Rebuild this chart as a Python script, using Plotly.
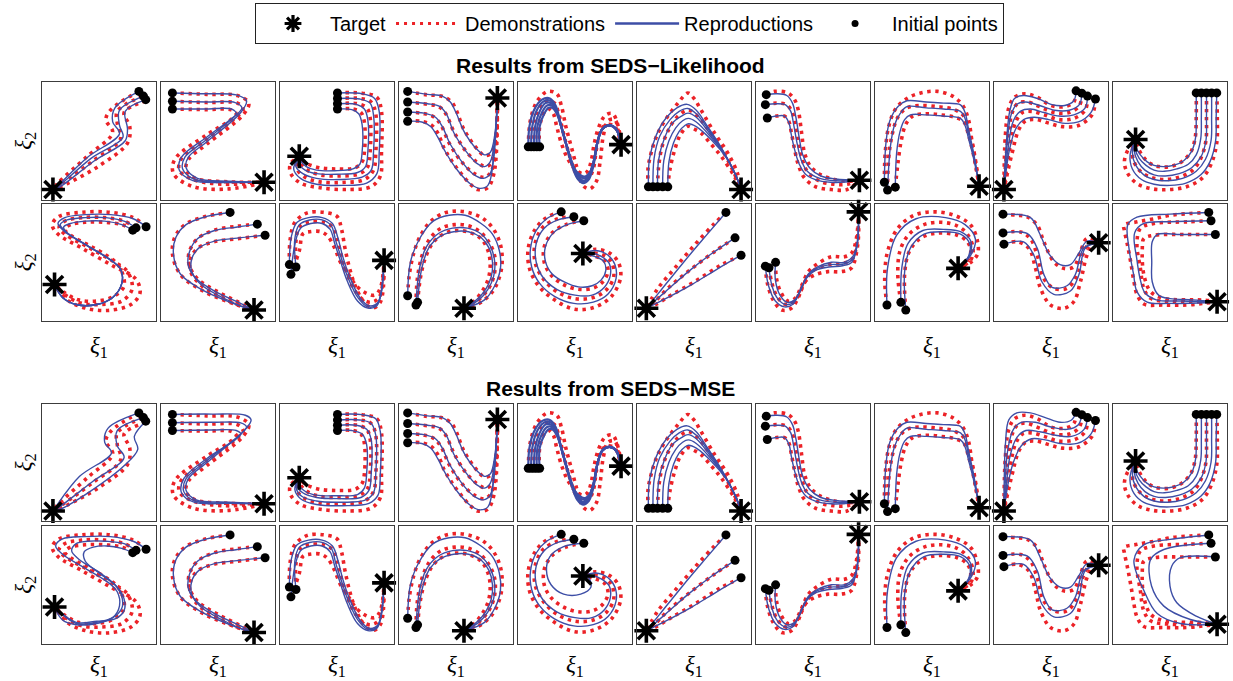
import plotly.graph_objects as go

W, H = 1233, 681

# ---------------- data (panel coordinates 0-100, y up) ----------------
# Row-1/3 shapes: S01..S10 ; Row-2/4 shapes: S11..S20
T01 = (9.6, 8.5)
D01 = [
    [(85, 92), (61, 77), (56, 68), (62, 57), (40, 37), (14, 14), (9.6, 8.5)],
    [(88, 88), (66, 75), (66, 65), (69, 52), (45, 33), (18, 14), (9.6, 8.5)],
    [(91, 84), (72, 74), (77, 62), (75, 48), (49, 28), (23, 14), (9.6, 8.5)],
]
RL01 = [
    [(85, 92), (64, 78), (62, 66), (68, 56), (40, 36), (14, 12), (9.6, 8.5)],
    [(89, 88), (68, 76), (68, 63), (71, 53), (43, 35), (14, 11), (9.6, 8.5)],
    [(91, 85), (73, 75), (75, 60), (73, 50), (46, 33), (16, 11), (9.6, 8.5)],
]
RM01 = [
    [(85, 92), (58, 79), (55, 67), (61, 58), (33, 38), (12, 12), (9.6, 8.5)],
    [(89, 88), (66, 77), (66, 64), (72, 54), (45, 34), (14, 11), (9.6, 8.5)],
    [(91, 85), (81, 72), (84, 61), (72, 47), (42, 25), (16, 10), (9.6, 8.5)],
]

T02 = (90.4, 14.7)
D02 = [
    [(10, 90.7), (40, 89.5), (67, 88.5), (77, 82), (72, 72), (40, 47), (24, 34), (22, 25), (30, 18), (60, 15), (90.4, 14.7)],
    [(10, 83.6), (40, 82.5), (67, 82), (72, 77), (66, 70), (40, 51), (18, 35), (16, 25), (28, 17), (55, 13), (90.4, 14.7)],
    [(10, 77), (40, 76.5), (61, 76.5), (66, 73), (60, 67), (40, 55), (12, 34), (11, 22), (28, 11), (60, 9), (90.4, 14.7)],
]
RL02 = [
    [(10, 90.7), (40, 90), (66, 89), (75, 84), (70, 74), (40, 49), (24, 36), (22, 27), (32, 18), (60, 15.5), (90.4, 14.7)],
    [(10, 83.6), (40, 83), (65, 82.5), (71, 78), (65, 71), (40, 51), (21, 36), (19, 26), (30, 17), (60, 15), (90.4, 14.7)],
    [(10, 77), (40, 77), (62, 77), (66, 73), (60, 67.5), (40, 53), (18, 36), (16, 25), (28, 16), (60, 14.5), (90.4, 14.7)],
]
RM02 = [
    [(10, 90.7), (45, 91), (74, 90), (79, 86), (74, 78), (42, 51), (24, 36), (22, 26), (31, 18), (60, 16), (90.4, 14.7)],
    [(10, 83.6), (45, 84), (70, 83.5), (75, 80), (70, 74), (41, 52), (22, 36), (20, 25), (30, 17), (60, 15.5), (90.4, 14.7)],
    [(10, 77), (45, 77.5), (66, 77), (70, 74), (65, 69), (40, 53), (20, 36), (18, 24), (29, 16), (60, 15), (90.4, 14.7)],
]

T03 = (16.9, 36.8)
D03 = [
    [(50.4, 90.7), (72, 90.5), (85, 87), (89, 75), (89, 40), (88, 20), (80, 11), (60, 8.5), (35, 10), (18, 14), (9.5, 22), (9, 30), (16.9, 36.8)],
    [(50.4, 86), (70, 86), (80, 83), (84, 73), (84, 40), (82, 25), (74, 17), (55, 14.5), (35, 15), (22, 19), (15, 26), (16.9, 36.8)],
    [(50.4, 81.5), (68, 81.5), (76, 78), (79, 70), (79, 40), (77, 28), (70, 22), (52, 20), (35, 21), (24, 25), (18, 31), (16.9, 36.8)],
    [(50.4, 77), (64, 77), (71, 74), (74, 66), (74, 40), (72, 32), (66, 27), (50, 26), (35, 27), (25, 30), (19, 34), (16.9, 36.8)],
]
RL03 = [
    [(50.4, 90.7), (72, 90), (83, 86), (87, 75), (87, 40), (85, 22), (76, 14), (55, 12), (32, 13), (18, 18), (12, 26), (16.9, 36.8)],
    [(50.4, 86), (70, 85.5), (79, 82), (82, 72), (82, 40), (80, 25), (72, 19), (52, 17), (32, 18), (20, 22), (14, 28), (16.9, 36.8)],
    [(50.4, 81.5), (67, 81), (74, 77), (77, 68), (77, 40), (75, 28), (68, 23), (50, 21.5), (32, 22), (22, 25), (16, 31), (16.9, 36.8)],
    [(50.4, 77), (63, 76.5), (69, 73), (72, 64), (72, 40), (70, 30), (64, 26), (48, 24.5), (32, 25), (23, 28), (18, 33), (16.9, 36.8)],
]
RM03 = [
    [(50.4, 90.7), (72, 90.5), (84, 87), (88, 76), (88, 40), (86, 22), (78, 15), (55, 13), (32, 14), (18, 19), (13, 27), (16.9, 36.8)],
    [(50.4, 86), (70, 86), (80, 83), (84, 73), (84, 40), (82, 24), (74, 17.5), (53, 16), (32, 17), (19, 21), (14, 29), (16.9, 36.8)],
    [(50.4, 81.5), (67, 81.5), (76, 78), (80, 69), (80, 40), (78, 26), (71, 20), (51, 19), (32, 20), (20, 24), (15, 30), (16.9, 36.8)],
    [(50.4, 77), (63, 77), (72, 74), (76, 65), (76, 40), (74, 28), (68, 22.5), (49, 21.5), (32, 22), (21, 26), (16, 32), (16.9, 36.8)],
]

T04 = (86.3, 86.4)
D04 = [
    [(7.6, 92), (25, 89), (37, 88), (45.5, 83.6), (50, 76.5), (57, 59.5), (69, 42.5), (75, 37.4), (81, 39.4), (85, 53.8), (86.3, 86.4)],
    [(7.6, 83), (25, 81), (35, 79), (41, 73), (48, 58), (58, 42), (68, 32), (76, 28), (81, 31), (85, 50), (86.3, 86.4)],
    [(7.6, 74.5), (22, 73), (31, 70), (37, 63), (44, 48), (55, 32), (66, 22), (75, 19), (81, 24), (85, 48), (86.3, 86.4)],
    [(7.6, 66.6), (19, 66.6), (28, 63.7), (34, 56.6), (39.6, 43.6), (45.5, 34), (54, 22.7), (63, 12.7), (69, 8.5), (77.6, 9.9), (83.4, 22.7), (86.3, 86.4)],
]
RL04 = [
    [(7.6, 92), (25, 89.5), (38, 88), (45, 83), (50, 74), (57, 58), (68, 43), (75, 38), (80, 40), (84, 55), (86.3, 86.4)],
    [(7.6, 83), (25, 81.5), (36, 79), (42, 72), (48, 57), (58, 42), (68, 31), (75, 28), (80, 32), (84, 52), (86.3, 86.4)],
    [(7.6, 74.5), (22, 73.5), (32, 70), (38, 62), (45, 47), (56, 31), (66, 21), (74, 18), (80, 22), (84, 47), (86.3, 86.4)],
    [(7.6, 66.6), (20, 66), (28, 62), (34, 53), (41, 40), (52, 24), (63, 13), (71, 9.5), (78, 12), (83, 35), (86.3, 86.4)],
]
RM04 = RL04

T05 = (90.4, 46.7)
D05 = [
    [(9, 44.8), (11, 68), (17, 84), (26, 92), (34, 90), (38, 80), (42, 62), (47, 44), (52, 26), (57, 12), (63, 9), (69, 16), (72, 32), (75, 55), (79, 67), (85, 68), (88, 58), (90.4, 46.7)],
    [(14, 44.8), (15, 66), (20, 80), (26, 84), (32, 82), (36, 72), (40, 56), (45, 38), (51, 22), (57, 17), (62, 18), (66, 26), (69, 44), (73, 60), (79, 64), (85, 62), (90.4, 46.7)],
    [(19, 44.8), (19, 62), (23, 74), (27, 77), (31, 73), (34, 62), (38, 48), (44, 34), (51, 25), (57, 22), (61, 24), (64, 32), (67, 48), (71, 62), (77, 72), (83, 73), (88, 62), (90.4, 46.7)],
]
RL05 = [
    [(9, 44.8), (10, 62), (14, 76), (21, 85), (28, 86), (33, 80), (37, 66), (42, 48), (47, 30), (52, 18), (57, 14), (62, 17), (66, 28), (70, 50), (74, 60), (80, 63), (86, 60), (90.4, 46.7)],
    [(11.5, 44.8), (12.5, 62), (16.5, 76), (22.5, 83.5), (28.5, 84), (33, 78), (37.5, 64), (42.5, 46), (48, 29), (53, 18), (57.5, 15), (62, 18.5), (66, 30), (70, 50), (74, 60), (80, 63), (86, 60), (90.4, 46.7)],
    [(14, 44.8), (15, 62), (19, 75), (24, 82), (29, 82), (33.5, 76), (38, 62), (43, 45), (48.5, 28), (53.5, 19), (58, 16), (62, 20), (66, 31), (70, 50), (74, 60), (80, 63), (86, 60), (90.4, 46.7)],
    [(16.5, 44.8), (17, 62), (21, 74), (25.5, 80), (29.5, 80), (34, 74), (38.5, 60), (43.5, 43), (49, 27), (54, 20), (58.5, 18), (62.5, 21.5), (66.5, 33), (70, 50), (74, 60), (80, 63), (86, 60), (90.4, 46.7)],
    [(19, 44.8), (19, 62), (23, 73), (27, 78), (30, 78), (34.5, 72), (39, 58), (44, 41), (49.5, 26), (54.5, 21), (59, 19.5), (63, 23), (67, 34), (70, 50), (74, 60), (80, 63), (86, 60), (90.4, 46.7)],
]
RM05 = RL05

T06 = (91.3, 8.5)
D06 = [
    [(10, 10.8), (9.6, 25.5), (12.5, 40), (18.4, 56.7), (27, 70.8), (35.9, 82), (44.6, 90.7), (50, 86), (56, 76.5), (68, 56.7), (79.6, 39.7), (88, 22.7), (91.3, 8.5)],
    [(18, 10.8), (19, 28), (22, 45), (28, 60), (35, 70), (44.6, 76), (52, 72), (62, 60), (73, 45), (84, 25), (91.3, 8.5)],
    [(27, 10.8), (29, 26), (33, 42), (38, 55), (44.6, 62.3), (50, 60), (56, 56.7), (65, 47), (73.8, 36.8), (85.4, 19.8), (91.3, 8.5)],
]
RL06 = [
    [(10, 10.8), (11, 35), (17, 55), (26, 70), (35, 78), (44, 81), (52, 76), (62, 62), (74, 44), (85, 24), (91.3, 8.5)],
    [(14, 10.8), (15, 35), (20, 54), (29, 68), (37, 75), (44.5, 77.5), (52, 73), (63, 59), (75, 42), (85.5, 23), (91.3, 8.5)],
    [(18, 10.8), (19, 34), (24, 52), (31, 65), (39, 71), (44.8, 73.5), (52, 70), (64, 56), (76, 40), (86, 22), (91.3, 8.5)],
    [(22.5, 10.8), (23.5, 33), (28, 50), (34, 61), (40, 67), (45, 69), (52, 66), (65, 53), (77, 38), (86.5, 21), (91.3, 8.5)],
    [(27, 10.8), (28, 32), (32, 48), (37, 58), (42, 63), (45.3, 64.5), (52, 62), (66, 50), (78, 36), (87, 20), (91.3, 8.5)],
]
RM06 = RL06

T07 = (90.7, 16.4)
D07 = [
    [(9, 89.2), (16.3, 92), (28, 90.7), (33.8, 85), (37, 76.5), (40, 56.7), (42.6, 39.7), (48, 28), (57, 21), (68.8, 17), (80.5, 15.6), (90.7, 16.4)],
    [(8.2, 80.7), (18, 82), (26, 81), (31, 76), (34, 66), (37, 50), (40, 36), (45, 24), (55, 16), (68, 13), (80, 13), (90.7, 16.4)],
    [(9.9, 69.4), (18, 71), (25, 71), (29, 66), (31, 57), (34, 42), (37, 30), (42, 19), (52, 11), (66, 8.5), (80, 8.5), (90.7, 16.4)],
]
RL07 = [
    [(9, 89.2), (18, 90), (27, 88.5), (32, 82), (35, 70), (38, 52), (41, 38), (47, 27), (57, 20), (70, 17.5), (90.7, 16.4)],
    [(8.2, 80.7), (18, 81.5), (26, 80.5), (30.5, 75), (33, 64), (36, 48), (39.5, 34), (45, 24), (56, 18), (70, 16), (90.7, 16.4)],
    [(9.9, 69.4), (18, 71), (25, 71), (29, 65), (31, 55), (34, 42), (38, 30), (44, 21), (55, 16), (70, 14.5), (90.7, 16.4)],
]
RM07 = RL07

T08 = (91.3, 11.3)
D08 = [
    [(8.2, 14.7), (9, 40), (12, 62), (18, 77), (28, 86), (40, 90.7), (55, 92), (68, 88), (77, 80), (82, 68), (85, 50), (88, 32), (91.3, 11.3)],
    [(11, 8), (12, 35), (15, 55), (20, 70), (28, 78), (40, 80), (55, 79), (68, 77), (77, 72), (82, 60), (86, 45), (89, 28), (91.3, 11.3)],
    [(17.8, 10.5), (20, 30), (23, 50), (27, 64), (33, 71), (45, 73), (58, 72), (70, 70), (78, 66), (82, 55), (86, 40), (89, 25), (91.3, 11.3)],
]
RL08 = [
    [(8.2, 14.7), (9.6, 48), (13, 67), (20, 79), (28, 84), (45, 83), (60, 82), (75, 80.5), (79, 74), (82, 60), (86, 42), (90, 20), (91.3, 11.3)],
    [(11, 8), (13.5, 45), (17, 63), (22, 73), (28, 79), (45, 78), (60, 77), (75, 75), (79, 69), (82, 56), (86, 40), (90, 20), (91.3, 11.3)],
    [(17.8, 10.5), (19, 40), (22, 58), (26, 68), (31, 72), (45, 72), (60, 71), (75, 69), (79, 63), (82, 52), (86, 37), (90, 19), (91.3, 11.3)],
]
RM08 = RL08

T09 = (8.7, 8.5)
D09 = [
    [(72, 92.5), (70, 83), (62, 79), (50, 80), (38, 87), (27, 90), (18, 87), (13, 78), (10, 55), (8.7, 8.5)],
    [(77, 90.5), (75, 80), (66, 74), (53, 74), (40, 79), (29, 83), (21, 82), (16, 74), (12, 50), (8.7, 8.5)],
    [(82, 88), (80, 76), (70, 69), (57, 68), (44, 72), (33, 75), (25, 74), (19, 66), (14, 45), (8.7, 8.5)],
    [(89, 85.5), (86, 72), (74, 63), (60, 62), (48, 65), (37, 68), (28, 67), (22, 60), (16, 40), (8.7, 8.5)],
]
RL09 = [
    [(72, 92.5), (70, 84), (62, 80), (50, 81), (38, 86), (26, 88.5), (18, 86), (14, 76), (11, 50), (8.7, 8.5)],
    [(77, 90.5), (75, 81), (66, 76), (53, 76), (40, 80), (28, 83), (20, 81), (15, 72), (11.5, 48), (8.7, 8.5)],
    [(82, 88), (80, 78), (70, 72), (57, 71), (44, 74), (32, 77), (23, 75), (17, 67), (12.5, 45), (8.7, 8.5)],
    [(89, 85.5), (85, 74), (74, 66), (60, 65), (48, 68), (35, 70), (26, 68), (19, 60), (13.5, 42), (8.7, 8.5)],
]
RM09 = [
    [(72, 92.5), (68, 86), (58, 84), (45, 88), (32, 92), (20, 92), (13, 86), (10, 65), (9, 35), (8.7, 8.5)],
    [(77, 90.5), (74, 82), (64, 78), (50, 80), (36, 84), (24, 84), (17, 78), (12, 60), (10, 35), (8.7, 8.5)],
    [(82, 88), (79, 78), (68, 72), (54, 73), (40, 76), (28, 77), (20, 71), (14, 55), (11, 32), (8.7, 8.5)],
    [(89, 85.5), (85, 74), (73, 66), (58, 66), (45, 69), (33, 70), (24, 64), (17, 50), (12, 30), (8.7, 8.5)],
]

T10 = (19.8, 51)
D10 = [
    [(91, 90.7), (91.5, 70), (91, 48), (86, 30), (78, 18), (65, 11), (50, 8.5), (35, 9), (22, 13), (13, 22), (10, 32), (13, 42), (19.8, 51)],
    [(82, 90.7), (82, 70), (81.5, 50), (77, 35), (70, 25), (58, 19), (45, 17), (33, 19), (24, 24), (18, 33), (17, 42), (19.8, 51)],
    [(73, 90.7), (73, 70), (72, 52), (68, 40), (60, 32), (50, 28), (40, 28), (32, 31), (26, 37), (22, 44), (19.8, 51)],
]
RL10 = [
    [(91, 90.7), (90.5, 70), (90, 50), (85, 32), (77, 21), (64, 14), (50, 12), (36, 13), (25, 17), (17, 26), (15, 38), (19.8, 51)],
    [(86.5, 90.7), (86.5, 70), (86, 50), (81, 34), (73, 24), (61, 18), (48, 16), (36, 17), (27, 21), (20, 29), (17, 40), (19.8, 51)],
    [(82, 90.7), (82, 70), (81.5, 50), (77, 36), (69, 27), (58, 22), (46, 20), (36, 21), (28, 25), (22, 32), (18.5, 42), (19.8, 51)],
    [(77.5, 90.7), (77.5, 70), (77, 52), (73, 38), (66, 30), (56, 26), (45, 24), (36, 25), (29, 29), (23, 35), (19.5, 43), (19.8, 51)],
    [(73, 90.7), (73, 70), (72.5, 53), (69, 41), (62, 33), (53, 29), (44, 28), (36, 29), (30, 32), (24, 38), (20, 45), (19.8, 51)],
]
RM10 = RL10

T11 = (11, 31)
D11 = [
    [(91.3, 80.2), (80, 88), (60, 92.5), (35, 92.5), (15, 89), (9, 82), (14, 74), (35, 62), (62, 47), (82, 36), (86, 24), (78, 14), (58, 9), (38, 11), (22, 18), (11, 31)],
    [(82.5, 79.3), (72, 85), (55, 88), (35, 88), (20, 85), (15, 80), (20, 74), (40, 63), (62, 51), (75, 42), (79, 27), (70, 17), (52, 14), (35, 15), (22, 21), (11, 31)],
    [(79.6, 77.3), (70, 82), (55, 84), (38, 84), (25, 82), (20, 78), (25, 73), (42, 64), (58, 55), (68, 46), (72, 30), (63, 21), (48, 17), (32, 18), (20, 24), (11, 31)],
]
RL11 = [
    [(91.3, 80.2), (80, 87), (60, 90.5), (38, 90.5), (20, 88), (14, 83), (20, 76), (40, 64), (60, 52), (69, 44), (70, 32), (62, 20), (48, 14), (30, 14), (18, 20), (11, 31)],
    [(82.5, 79.3), (72, 85), (56, 88), (38, 88), (22, 86), (16, 82), (21, 76), (40, 64), (60, 52), (69, 44), (70, 32), (62, 20), (48, 14), (30, 14), (18, 20), (11, 31)],
    [(79.6, 77.3), (70, 82), (55, 85), (38, 85), (25, 83), (19, 80), (22, 75), (40, 64), (60, 52), (69, 44), (70, 32), (62, 20), (48, 14), (30, 14), (18, 20), (11, 31)],
]
RM11 = [
    [(91.3, 80.2), (80, 87), (60, 91), (38, 91), (18, 89), (12, 83), (18, 76), (38, 64), (58, 52), (66, 44), (68, 32), (62, 22), (48, 17), (30, 16), (18, 20), (11, 31)],
    [(82.5, 79.3), (72, 85), (56, 87), (40, 87), (30, 85), (26, 79), (32, 72), (48, 62), (64, 50), (70, 40), (70, 30), (62, 22), (48, 18), (30, 17), (11, 31)],
    [(79.6, 77.3), (70, 81), (57, 83), (45, 82), (37, 78), (38, 70), (50, 60), (66, 48), (72, 38), (72, 28), (64, 21), (48, 19), (30, 18), (11, 31)],
]

T12 = (81.6, 9.3)
D12 = [
    [(60.6, 92.4), (38, 88.7), (20.4, 81.6), (11.7, 70.3), (10.2, 56), (17.5, 39), (38, 25), (67, 13.6), (81.6, 9.3)],
    [(84.5, 82.4), (67, 80.7), (46.6, 77.3), (32, 70), (24.8, 59), (24.8, 47.6), (32, 36), (49.6, 25), (73, 13.6), (81.6, 9.3)],
    [(91.3, 73), (67, 70), (46.6, 67.4), (32, 61.8), (26, 53), (26, 42), (35, 30.6), (55.4, 19), (75.8, 10.8), (81.6, 9.3)],
]
RL12 = [
    [(60.6, 92.4), (40, 89), (22, 82), (13, 71), (11, 56), (17, 40), (37, 26), (66, 14), (81.6, 9.3)],
    [(84.5, 82.4), (67, 80), (47, 77), (32, 70), (25, 59), (24, 47), (31, 36), (48, 25), (72, 14), (81.6, 9.3)],
    [(91.3, 73), (67, 70.5), (47, 68), (33, 62), (27, 53), (27, 42), (35, 31), (54, 20), (75, 11), (81.6, 9.3)],
]
RM12 = RL12

T13 = (91.3, 51.6)
D13 = [
    [(8.2, 48), (9, 70), (13, 84), (24, 92), (38, 92.5), (50, 89), (54, 78), (57, 62), (61, 45), (66, 30), (73, 17), (81, 11), (88, 16), (91.3, 51.6)],
    [(14, 46), (14, 68), (17, 80), (25, 84), (38, 84), (46, 80), (50, 70), (54, 55), (59, 40), (65, 27), (73, 18), (80, 16), (87, 20), (91.3, 51.6)],
    [(9.6, 39.7), (17, 60), (20, 74), (26, 76), (36, 76), (42, 72), (48, 62), (53, 50), (60, 40), (67, 30), (75, 24), (83, 22), (88, 28), (91.3, 51.6)],
]
RL13 = [
    [(8.2, 48), (10, 72), (15, 84), (25, 88), (37, 88), (46, 83), (51, 70), (55, 55), (61, 38), (70, 20), (78, 13), (86, 16), (91.3, 51.6)],
    [(14, 46), (13, 70), (17, 82), (26, 86), (37, 86), (45, 81), (49, 68), (54, 53), (60, 36), (69, 19), (77, 12), (85, 14), (91.3, 51.6)],
    [(9.6, 39.7), (13, 65), (18, 79), (27, 83), (37, 83), (44, 78), (48, 66), (53, 51), (59, 34), (68, 17), (77, 11), (85, 13), (91.3, 51.6)],
]
RM13 = RL13

T14 = (57, 10.8)
D14 = [
    [(7.6, 21.5), (9, 39), (13, 58), (19, 73), (28, 85), (40, 92), (52, 93.5), (64, 91.5), (74, 87), (83, 78), (89, 65), (90.5, 50), (88, 37), (82, 25), (72, 16), (63, 12), (57, 10.8)],
    [(14.9, 13.6), (16, 35), (20, 55), (27, 70), (37, 79), (49, 82), (61, 81), (71, 76), (79, 67), (84, 55), (84, 42), (80, 30), (72, 20), (63, 14), (57, 10.8)],
    [(16.3, 15.9), (19, 38), (24, 56), (31, 68), (41, 75), (52, 77), (63, 75), (72, 70), (78, 60), (80, 48), (78, 35), (72, 24), (64, 15), (57, 10.8)],
]
RL14 = [
    [(7.6, 21.5), (10, 50), (18, 70), (30, 85), (44, 90), (58, 90), (72, 83), (82, 74), (88, 60), (89, 45), (84, 30), (75, 18), (57, 10.8)],
    [(14.9, 13.6), (18, 45), (24, 63), (34, 74), (47, 79), (60, 79), (72, 74), (80, 64), (84, 50), (83, 38), (78, 27), (70, 18), (57, 10.8)],
    [(16.3, 15.9), (20, 45), (26, 62), (36, 72), (48, 76), (61, 76), (72, 71), (79, 62), (82, 50), (81, 38), (76, 27), (68, 18), (57, 10.8)],
]
RM14 = RL14

T15 = (56.9, 57.5)
D15 = [
    [(37.9, 92.9), (25, 88), (15, 78), (9, 62), (10, 45), (18, 30), (32, 18), (50, 10), (68, 12), (82, 21), (90, 37), (88, 50), (80, 58), (68, 61), (56.9, 57.5)],
    [(49, 88.7), (35, 87), (22, 80), (15, 66), (15, 50), (22, 36), (34, 25), (50, 19), (66, 20), (78, 27), (84, 38), (82, 50), (75, 56), (66, 58), (56.9, 57.5)],
    [(57.7, 85.3), (42, 82), (30, 75), (23, 63), (23, 50), (29, 39), (40, 31), (53, 27), (66, 28), (75, 34), (79, 43), (76, 51), (68, 55), (56.9, 57.5)],
]
RL15 = [
    [(37.9, 92.9), (25, 87), (16, 77), (11, 62), (12, 46), (19, 32), (32, 21), (49, 15), (66, 16), (79, 23), (86, 36), (85, 48), (79, 56), (68, 60), (56.9, 57.5)],
    [(49, 88.7), (35, 86), (23, 79), (16, 66), (16, 50), (22, 37), (34, 27), (50, 22), (65, 22), (76, 29), (81, 39), (80, 49), (73, 55), (65, 58), (56.9, 57.5)],
    [(57.7, 85.3), (43, 82), (31, 75), (24, 63), (24, 51), (30, 40), (41, 33), (53, 29), (65, 30), (73, 35), (77, 43), (75, 51), (67, 55), (56.9, 57.5)],
]
RM15 = [
    RL15[0],
    RL15[1],
    [(57.7, 85.3), (40, 82.5), (28, 74), (25, 62), (29, 50), (40, 42), (55, 42), (64, 48), (62, 56), (56.9, 57.5)],
]

T16 = (8.2, 10.8)
D16 = [
    [(78, 92.4), (68, 83), (50.4, 64.6), (33, 44.8), (18.4, 27.8), (8.2, 10.8)],
    [(86, 70.8), (68, 59), (44.6, 42), (27, 27.8), (15.5, 16.4), (8.2, 10.8)],
    [(91.3, 56), (73.8, 47.6), (50.4, 33.4), (30, 22), (15.5, 13.6), (8.2, 10.8)],
]
RL16 = [
    [(78, 92.4), (60, 72), (40, 49), (20, 25), (8.2, 10.8)],
    [(86, 70.8), (65, 57), (45, 42), (25, 25), (8.2, 10.8)],
    [(91.3, 56), (70, 44), (48, 31), (25, 19), (8.2, 10.8)],
]
RM16 = RL16

T17 = (90, 92.9)
D17 = [
    [(8.2, 46.7), (10, 32), (15, 18), (22.7, 9.3), (30.9, 10.8), (36.7, 19), (42.6, 33), (51, 39), (63, 42), (74.6, 42), (83.4, 44.8), (89.2, 64.6), (90, 92.9)],
    [(11.4, 45.3), (14, 32), (19, 20), (26, 14), (33, 16), (39, 25), (45, 37), (52, 44), (64, 48), (75, 49), (84, 52), (88.5, 66), (90, 92.9)],
    [(17.2, 49.9), (18, 36), (22, 24), (28, 17), (34, 19), (40, 30), (46, 42), (53, 48), (65.9, 54.7), (77.6, 54.7), (84, 58), (88, 70), (90, 92.9)],
]
RL17 = [
    [(8.2, 46.7), (11, 30), (17, 17), (25, 12), (32, 14), (38, 24), (44, 36), (52, 43), (64, 46), (76, 47), (84, 50), (88.5, 64), (90, 92.9)],
    [(11.4, 45.3), (14, 30), (19, 19), (26, 14), (33, 16), (39, 26), (45, 38), (53, 44.5), (65, 48), (77, 48.5), (85, 53), (89, 66), (90, 92.9)],
    [(17.2, 49.9), (17, 35), (21, 22), (27, 16), (34, 18), (40, 29), (46, 40), (54, 46), (66, 50), (78, 50), (85, 55), (89, 68), (90, 92.9)],
]
RM17 = RL17

T18 = (72.9, 44.8)
D18 = [
    [(10.5, 13.6), (8.5, 36), (11, 59), (19.8, 78.7), (34.4, 90), (52, 92.9), (69.4, 90), (84, 81.6), (90, 67.4), (90, 57), (84, 50), (72.9, 44.8)],
    [(22.7, 15.9), (20, 40), (22, 60), (30, 74), (43, 82), (58, 84), (72, 81), (81, 74), (86, 62), (84, 52), (72.9, 44.8)],
    [(27, 9.3), (26, 40), (30, 59), (40, 70.5), (55, 74.8), (72, 73), (81, 67.4), (84, 59), (80, 50), (72.9, 44.8)],
]
RL18 = [
    [(10.5, 13.6), (11, 45), (19, 73), (36, 87), (62, 88), (79, 82), (88, 70), (84, 56), (72.9, 44.8)],
    [(22.7, 15.9), (23.5, 45), (29, 66), (42, 77), (60, 78), (75, 76), (84, 68), (83, 56), (72.9, 44.8)],
    [(27, 9.3), (26, 42), (31, 62), (43, 74), (60, 76), (75, 74), (83, 66), (82, 55), (72.9, 44.8)],
]
RM18 = RL18

T19 = (91.8, 66.6)
D19 = [
    [(7.9, 90.9), (20, 90), (29, 88.7), (37.9, 81.6), (43.7, 67.4), (52.5, 50.4), (61, 44.8), (70, 46), (75.8, 59), (81.6, 70.3), (91.8, 66.6)],
    [(7.9, 75), (23.3, 75.8), (32, 70), (37.9, 56), (43.7, 36), (52.5, 27.8), (64, 27.8), (73, 39), (79, 59), (85, 67.4), (91.8, 66.6)],
    [(8.7, 65.4), (20.4, 67.4), (30.6, 61.8), (36.4, 44.8), (40.8, 27.8), (49.6, 13.6), (61, 10.8), (70, 16.4), (75.8, 33.4), (81.6, 56), (87.5, 67.4), (91.8, 66.6)],
]
RL19 = [
    [(7.9, 90.9), (32, 88), (40, 74.5), (49, 56), (58, 48), (67, 48), (74, 57), (81.6, 68), (91.8, 66.6)],
    [(7.9, 75), (29, 74.5), (37.9, 62), (43.7, 39.7), (51, 28.6), (64, 30), (71.4, 39.7), (78.7, 62), (91.8, 66.6)],
    [(8.7, 65.4), (26, 67.4), (35, 56), (42, 33.4), (52.5, 22.7), (67, 25.5), (74.6, 39.7), (80, 62), (91.8, 66.6)],
]
RM19 = RL19

T20 = (91.3, 16.4)
D20 = [
    [(84, 92.4), (68, 91.5), (50.4, 90), (35.9, 87), (21.3, 84.4), (9.6, 81.6), (10, 77), (12.5, 65.7), (15.5, 50.4), (18.4, 33.4), (21, 22.7), (27, 14.5), (44.6, 13.6), (65, 13.6), (79.6, 15), (91.3, 16.4)],
    [(86, 85.3), (65, 84.4), (35.9, 83), (24, 78.7), (21, 65.7), (24, 45), (27, 27.8), (33, 19.3), (50.4, 16.4), (79.6, 16.4), (91.3, 16.4)],
    [(89.8, 73.6), (65, 73.6), (35.9, 73), (27, 70), (25.7, 61.8), (27, 39.7), (33, 25), (44.6, 19.3), (79.6, 17.8), (91.3, 16.4)],
]
RL20 = [
    [(84, 92.4), (50, 91), (21, 88.4), (13, 82), (14, 62), (18, 40), (21, 25), (30, 16), (50, 15), (80, 15.5), (91.3, 16.4)],
    [(86, 85.3), (50, 84.5), (27, 83), (19, 75), (21, 52), (24, 35), (28, 24), (38, 18), (60, 17), (91.3, 16.4)],
    [(89.8, 73.6), (60, 73.6), (38.8, 73.6), (34.4, 67.4), (34, 50), (34.4, 33.4), (40, 22), (50, 19), (70, 18), (91.3, 16.4)],
]
RM20 = [
    [(84, 92.4), (50, 88.6), (27, 84), (18.4, 71), (27, 45.4), (38.8, 25.5), (59, 17), (91.3, 16.4)],
    [(86, 85.3), (44.6, 80), (33, 71.6), (33.8, 48.9), (44.6, 31.8), (67.9, 20.4), (91.3, 16.4)],
    [(89.8, 73.6), (59, 73), (51.6, 65.9), (50, 48.9), (56, 34.7), (73, 23.3), (91.3, 16.4)],
]

TARGETS = [T01, T02, T03, T04, T05, T06, T07, T08, T09, T10,
           T11, T12, T13, T14, T15, T16, T17, T18, T19, T20]
DEMOS = [D01, D02, D03, D04, D05, D06, D07, D08, D09, D10,
         D11, D12, D13, D14, D15, D16, D17, D18, D19, D20]
REPRO_LIK = [RL01, RL02, RL03, RL04, RL05, RL06, RL07, RL08, RL09, RL10,
             RL11, RL12, RL13, RL14, RL15, RL16, RL17, RL18, RL19, RL20]
REPRO_MSE = [RM01, RM02, RM03, RM04, RM05, RM06, RM07, RM08, RM09, RM10,
             RM11, RM12, RM13, RM14, RM15, RM16, RM17, RM18, RM19, RM20]

TITLES = ["Results from SEDS\u2212Likelihood", "Results from SEDS\u2212MSE"]
LEGEND_NAMES = ["Target", "Demonstrations", "Reproductions", "Initial points"]
X_LABEL = "<i>\u03be</i><sub>1</sub>"
Y_LABEL = "<i>\u03be</i><sub>2</sub>"

# ---------------- style ----------------
RED = "#ec2227"
BLUE = "#3d4ea6"
BOX = "#3c3c3c"
COL_LEFT = [42 + 119 * i for i in range(10)]
PANEL_W = 114
ROW_TOP = [82, 203.5, 403.5, 526]
PANEL_H = 117.5
SERIF = "Liberation Serif, DejaVu Serif, serif"
SANS = "Liberation Sans, Arial, sans-serif"

fig = go.Figure()
layout_axes = {}


def xs(path):
    return [p[0] for p in path]


def ys(path):
    return [p[1] for p in path]


k = 0
for r in range(4):
    repro_set = REPRO_LIK if r < 2 else REPRO_MSE
    for c in range(10):
        k += 1
        s = c if r % 2 == 0 else c + 10
        ax = "" if k == 1 else str(k)
        xref, yref = "x" + ax, "y" + ax
        x0 = COL_LEFT[c] / W
        x1 = (COL_LEFT[c] + PANEL_W) / W
        y1 = 1 - ROW_TOP[r] / H
        y0 = 1 - (ROW_TOP[r] + PANEL_H) / H
        axstyle = dict(range=[0, 100], showline=True, mirror=True, linecolor=BOX,
                       linewidth=1.2, showticklabels=False, ticks="", showgrid=False,
                       zeroline=False, fixedrange=True)
        layout_axes["xaxis" + ax] = dict(domain=[x0, x1], anchor=yref, **axstyle)
        layout_axes["yaxis" + ax] = dict(domain=[y0, y1], anchor=xref, **axstyle)

        for path in DEMOS[s]:
            fig.add_trace(go.Scatter(x=xs(path), y=ys(path), mode="lines", xaxis=xref, yaxis=yref,
                                     line=dict(color=RED, width=3.6, dash="3.4px,4.6px", shape="spline"),
                                     showlegend=False, hoverinfo="skip"))
        lw = 2.2 if s == 4 else 1.4
        for path in repro_set[s]:
            fig.add_trace(go.Scatter(x=xs(path), y=ys(path), mode="lines", xaxis=xref, yaxis=yref,
                                     line=dict(color=BLUE, width=lw, shape="spline"),
                                     showlegend=False, hoverinfo="skip"))
        starts = [p[0] for p in repro_set[s]]
        fig.add_trace(go.Scatter(x=xs(starts), y=ys(starts), mode="markers", xaxis=xref, yaxis=yref,
                                 marker=dict(color="black", size=9), cliponaxis=False,
                                 showlegend=False, hoverinfo="skip"))
        t = TARGETS[s]
        fig.add_trace(go.Scatter(x=[t[0]], y=[t[1]], mode="markers", xaxis=xref, yaxis=yref,
                                 marker=dict(symbol="asterisk-open", size=20, color="black",
                                             line=dict(color="black", width=3.6)),
                                 cliponaxis=False, showlegend=False, hoverinfo="skip"))

# legend entries
fig.add_trace(go.Scatter(x=[None], y=[None], mode="markers", name=LEGEND_NAMES[0], legendrank=1,
                         marker=dict(symbol="asterisk-open", size=14, color="black",
                                     line=dict(color="black", width=3.2))))
fig.add_trace(go.Scatter(x=[None], y=[None], mode="lines", name=LEGEND_NAMES[1], legendrank=2,
                         line=dict(color=RED, width=3, dash="3px,5px")))
fig.add_trace(go.Scatter(x=[None], y=[None], mode="lines", name=LEGEND_NAMES[2], legendrank=3,
                         line=dict(color=BLUE, width=2.5)))
fig.add_trace(go.Scatter(x=[None], y=[None], mode="markers", name=LEGEND_NAMES[3], legendrank=4,
                         marker=dict(color="black", size=7)))

annotations = []
title_y = [66, 388]
for i, ttl in enumerate(TITLES):
    annotations.append(dict(text="<b>" + ttl + "</b>", x=610 / W, y=1 - title_y[i] / H,
                            xref="paper", yref="paper", showarrow=False, xanchor="center", yanchor="middle",
                            font=dict(family=SANS, size=21, color="black")))
for r in range(4):
    yc = ROW_TOP[r] + PANEL_H / 2
    annotations.append(dict(text=Y_LABEL, x=25 / W, y=1 - yc / H, textangle=-90,
                            xref="paper", yref="paper", showarrow=False, xanchor="center", yanchor="middle",
                            font=dict(family=SERIF, size=23, color="black")))
for r, ylab in ((1, 347), (3, 666)):
    for c in range(10):
        xc = COL_LEFT[c] + PANEL_W / 2
        annotations.append(dict(text=X_LABEL, x=xc / W, y=1 - ylab / H,
                                xref="paper", yref="paper", showarrow=False, xanchor="center", yanchor="middle",
                                font=dict(family=SERIF, size=23, color="black")))

fig.update_layout(
    width=W, height=H, margin=dict(l=0, r=0, t=0, b=0),
    paper_bgcolor="white", plot_bgcolor="white",
    showlegend=True,
    legend=dict(orientation="h", x=629.5 / W, xanchor="center", y=1 - 3 / H, yanchor="top",
                bordercolor="#222", borderwidth=1, bgcolor="white",
                font=dict(family=SANS, size=20, color="black"),
                itemwidth=64),
    annotations=annotations,
    **layout_axes,
)

fig.write_html("out.html")
